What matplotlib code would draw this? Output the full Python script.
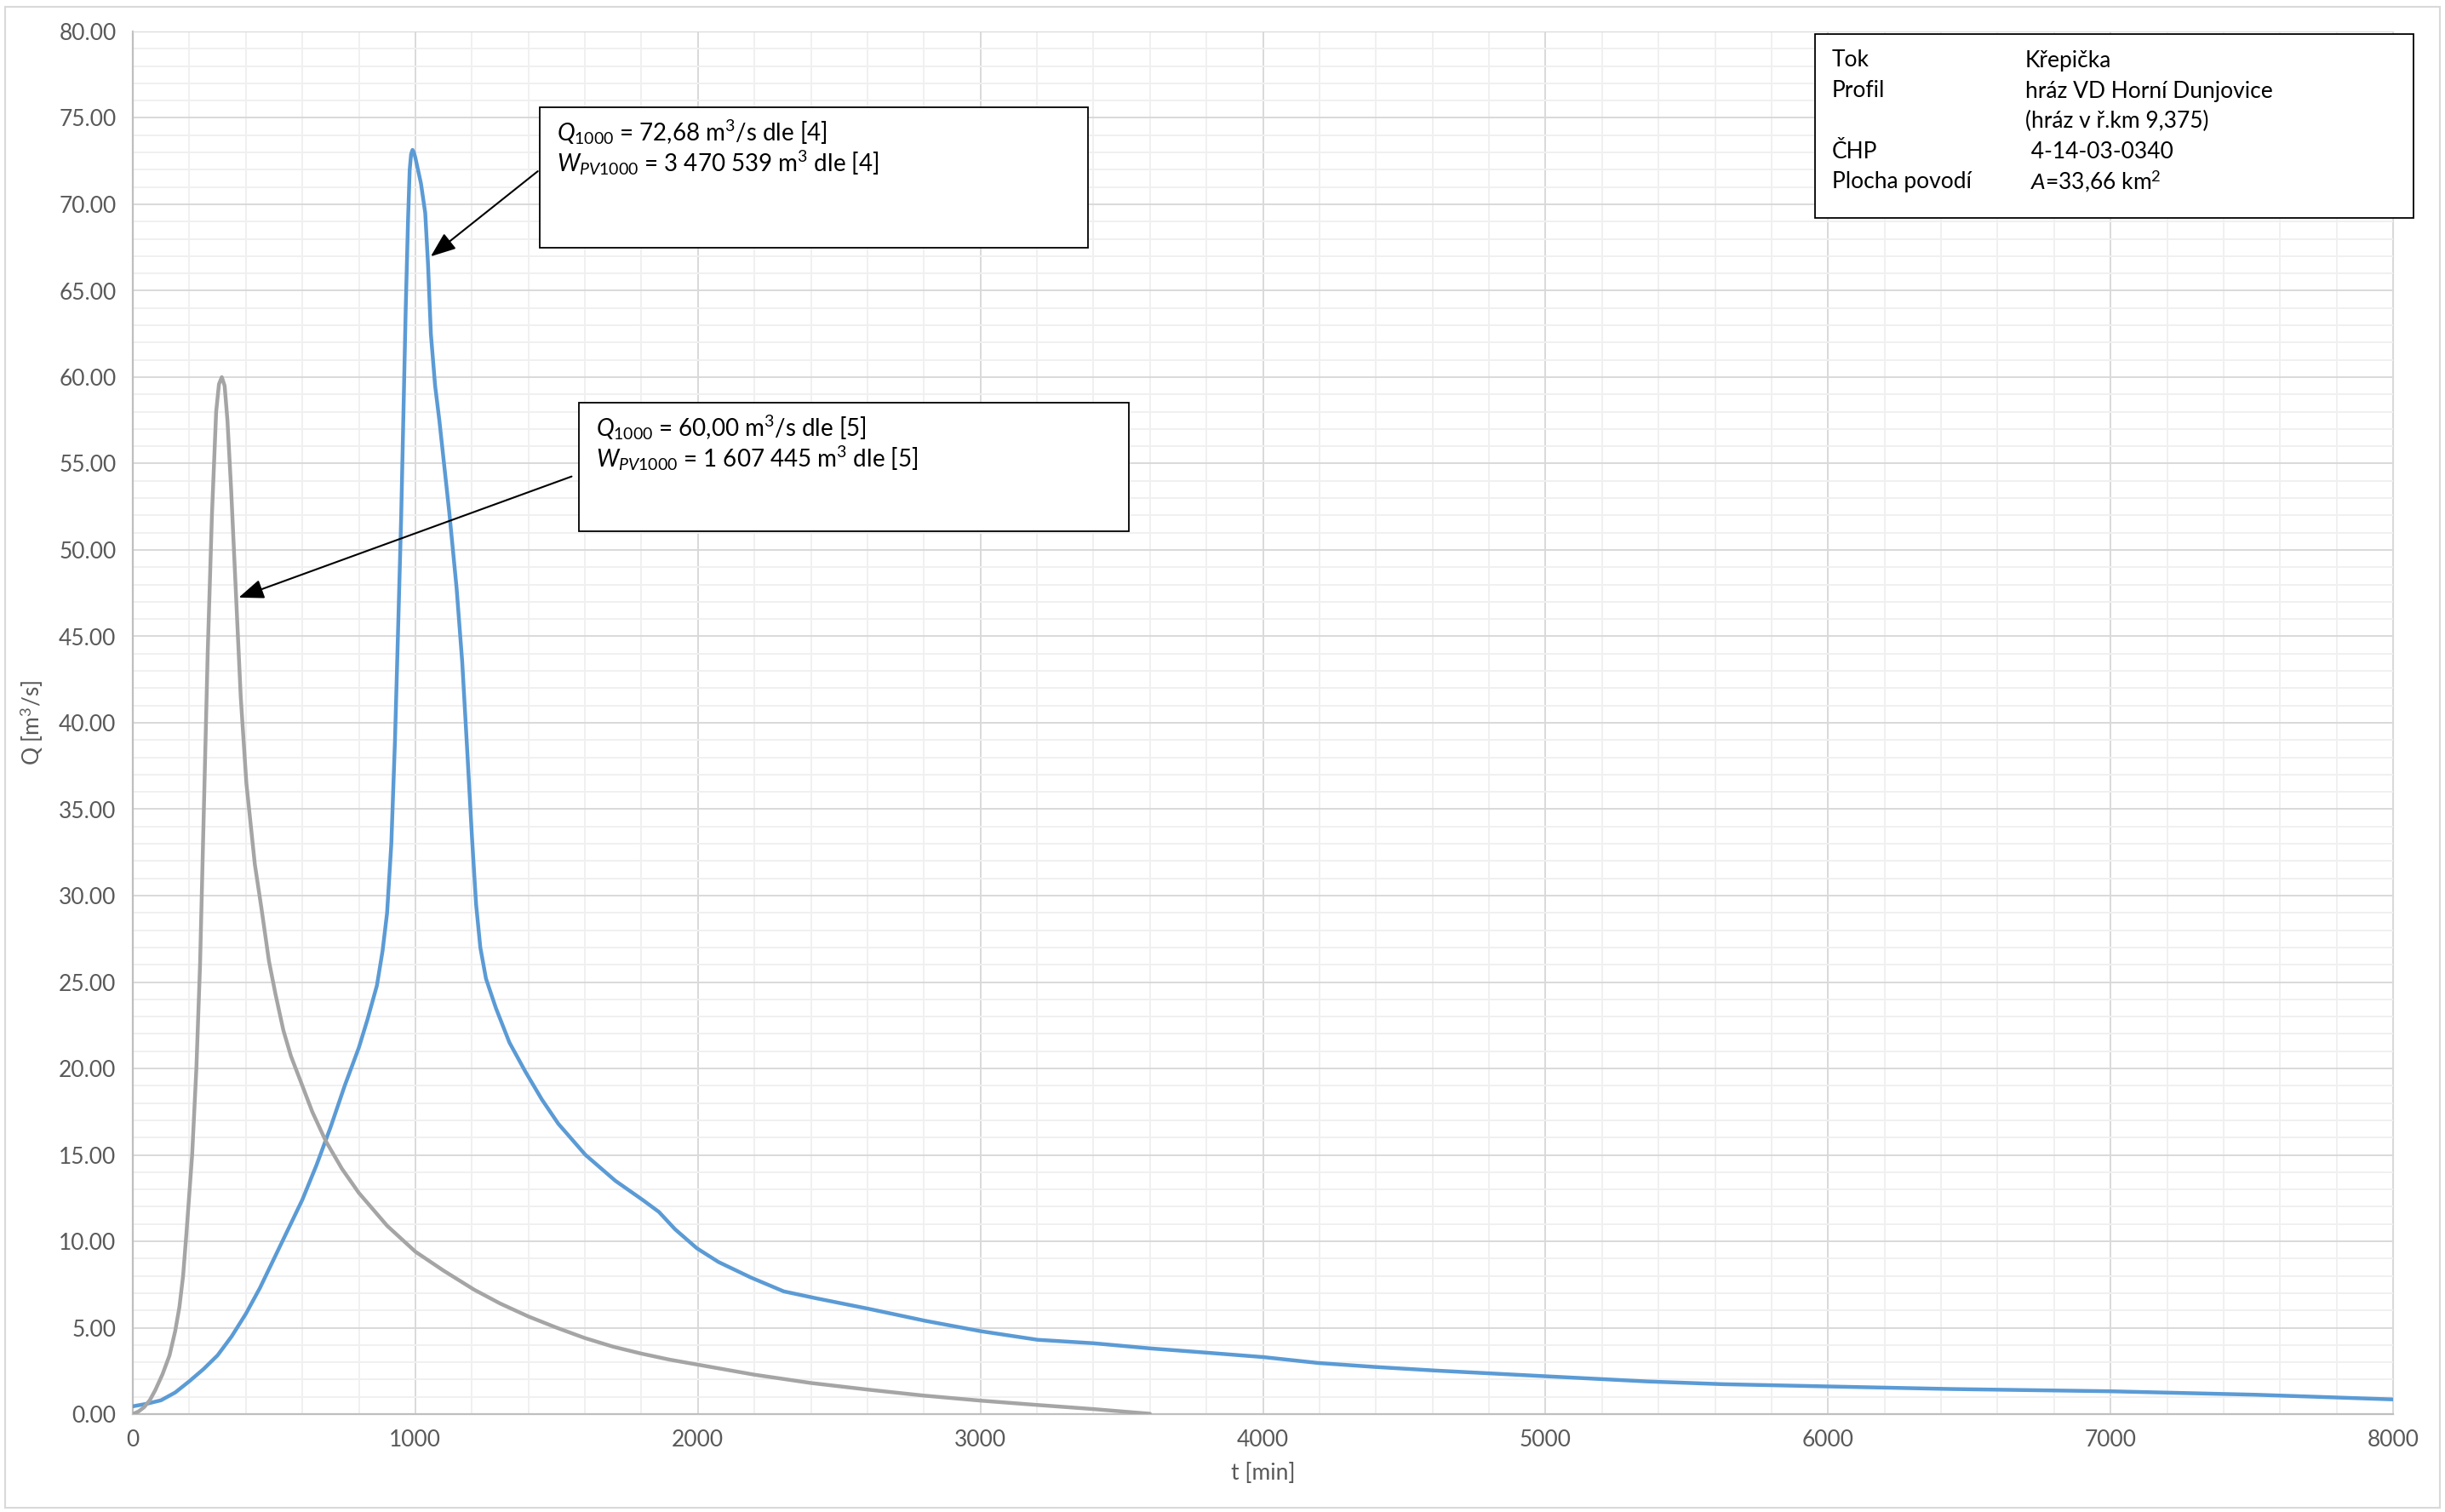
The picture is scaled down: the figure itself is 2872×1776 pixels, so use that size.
import matplotlib.pyplot as plt
from matplotlib.patches import Rectangle
from matplotlib.ticker import MultipleLocator, FormatStrFormatter

plt.rcParams['font.family'] = ['Lato', 'DejaVu Sans']
plt.rcParams['mathtext.fontset'] = 'custom'
plt.rcParams['mathtext.rm'] = 'Lato'
plt.rcParams['mathtext.it'] = 'Lato:italic'

# hydrograph [4] (blue)
t_blue = [0, 50, 100, 150, 200, 250, 300, 350, 400, 450, 500, 550, 600, 650, 700, 750,
          800, 830, 864, 884, 900, 915, 928, 940, 950, 958, 966, 974, 980, 985, 990, 995,
          1000, 1020, 1035, 1045, 1055, 1070, 1085, 1120, 1146, 1166, 1185, 1200, 1215,
          1230, 1250, 1285, 1333, 1390, 1448, 1506, 1602, 1708, 1804, 1862, 1919, 1996,
          2073, 2188, 2304, 2419, 2602, 2804, 3000, 3202, 3400, 3602, 3804, 4000, 4194,
          4395, 4610, 5000, 5360, 5629, 6000, 6438, 7000, 7513, 8000]
q_blue = [0.45, 0.6, 0.8, 1.25, 1.9, 2.6, 3.4, 4.5, 5.8, 7.3, 9.0, 10.7, 12.4, 14.4, 16.6, 19.0,
          21.2, 22.8, 24.8, 26.8, 29.0, 33.0, 39.0, 46.0, 52.0, 58.0, 64.0, 69.0, 72.0, 72.9, 73.15, 73.0,
          72.7, 71.2, 69.5, 66.5, 62.5, 59.5, 57.5, 52.2, 47.8, 43.5, 38.0, 33.5, 29.5,
          27.0, 25.2, 23.5, 21.5, 19.8, 18.2, 16.8, 15.0, 13.5, 12.4, 11.7, 10.7, 9.6,
          8.8, 7.9, 7.1, 6.7, 6.1, 5.4, 4.8, 4.3, 4.1, 3.8, 3.55, 3.3, 2.96,
          2.73, 2.52, 2.19, 1.89, 1.73, 1.6, 1.45, 1.32, 1.12, 0.85]

# hydrograph [5] (grey)
t_grey = [0, 20, 40, 60, 80, 105, 130, 150, 165, 178, 190, 210, 225, 238, 250, 265, 280,
          295, 305, 315, 325, 335, 348, 365, 382, 402, 432, 455, 482, 505, 533, 560, 593,
          635, 683, 740, 800, 900, 1000, 1100, 1208, 1300, 1400, 1500, 1600, 1700, 1800,
          1900, 2000, 2200, 2400, 2600, 2800, 3000, 3200, 3400, 3600]
q_grey = [0.0, 0.15, 0.4, 0.8, 1.4, 2.3, 3.4, 4.8, 6.2, 8.0, 10.5, 15.0, 20.0, 26.0, 34.0, 44.0, 52.0,
          58.0, 59.6, 60.0, 59.5, 57.5, 53.5, 47.5, 41.5, 36.5, 31.8, 29.3, 26.2, 24.3, 22.2, 20.7, 19.3,
          17.5, 15.8, 14.2, 12.8, 10.9, 9.4, 8.3, 7.2, 6.4, 5.65, 5.0, 4.4, 3.9, 3.5,
          3.15, 2.86, 2.28, 1.8, 1.42, 1.07, 0.78, 0.53, 0.29, 0.02]

info_keys = ['Tok', 'Profil', '', 'ČHP', 'Plocha povodí']
info_vals = ['Křepička', 'hráz VD Horní Dunjovice', '(hráz v ř.km 9,375)', ' 4-14-03-0340',
             r' $\mathit{A}$=33,66 km$^{2}$']

W, H = 2872, 1776
fig = plt.figure(figsize=(W / 100, H / 100), dpi=100)
ax = fig.add_axes([156 / W, 1 - 1661 / H, (2811 - 156) / W, (1661 - 37) / H])

ax.plot(t_blue, q_blue, color='#5b9bd5', lw=3.2, solid_joinstyle='round',
        solid_capstyle='round', zorder=3)
ax.plot(t_grey, q_grey, color='#a5a5a5', lw=3.2, solid_joinstyle='round',
        solid_capstyle='round', zorder=3)

ax.set_xlim(0, 8000)
ax.set_ylim(0, 80)
ax.xaxis.set_major_locator(MultipleLocator(1000))
ax.xaxis.set_minor_locator(MultipleLocator(200))
ax.yaxis.set_major_locator(MultipleLocator(5))
ax.yaxis.set_minor_locator(MultipleLocator(1))
ax.yaxis.set_major_formatter(FormatStrFormatter('%.2f'))
ax.grid(which='major', color='#d9d9d9', lw=1.4, zorder=0)
ax.grid(which='minor', color='#f0f0f0', lw=1.4, zorder=0)
ax.set_axisbelow(True)
ax.tick_params(which='both', length=0, labelsize=19, labelcolor='#595959')
ax.tick_params(axis='x', pad=13)
ax.tick_params(axis='y', pad=14)
for s in ['top', 'right']:
    ax.spines[s].set_color('#d9d9d9')
for s in ['left', 'bottom']:
    ax.spines[s].set_color('#bfbfbf')
    ax.spines[s].set_linewidth(1.6)

ax.set_xlabel('t [min]', fontsize=19, color='#595959', labelpad=10)
ax.set_ylabel('Q [m$^{3}$/s]', fontsize=19, color='#595959', labelpad=12)

# annotation boxes
ax.add_patch(Rectangle((1440, 67.5), 1940, 8.1, facecolor='white', edgecolor='black',
                       lw=1.3, zorder=5))
ax.text(1500, 74.2, r'$\mathit{Q}_{\mathit{1000}}$ = 72,68 m$^{3}$/s dle [4]', fontsize=20,
        va='center', zorder=6)
ax.text(1500, 72.4, r'$\mathit{W}_{\mathit{PV1000}}$ = 3 470 539 m$^{3}$ dle [4]', fontsize=20,
        va='center', zorder=6)
ax.annotate('', xy=(1048, 66.9), xytext=(1440, 72.0),
            arrowprops=dict(arrowstyle='-|>,head_length=0.9,head_width=0.35',
                            color='black', lw=1.5, mutation_scale=20), zorder=6)

ax.add_patch(Rectangle((1579, 51.1), 1946, 7.4, facecolor='white', edgecolor='black',
                       lw=1.3, zorder=5))
ax.text(1639, 57.1, r'$\mathit{Q}_{\mathit{1000}}$ = 60,00 m$^{3}$/s dle [5]', fontsize=20,
        va='center', zorder=6)
ax.text(1639, 55.3, r'$\mathit{W}_{\mathit{PV1000}}$ = 1 607 445 m$^{3}$ dle [5]', fontsize=20,
        va='center', zorder=6)
ax.annotate('', xy=(367, 47.2), xytext=(1561, 54.3),
            arrowprops=dict(arrowstyle='-|>,head_length=0.9,head_width=0.35',
                            color='black', lw=1.5, mutation_scale=20), zorder=6)

# info box (figure pixels)
fig.patches.append(Rectangle((2132 / W, 1 - 256 / H), (2835 - 2132) / W, 216 / H,
                             transform=fig.transFigure, facecolor='white',
                             edgecolor='black', lw=1.3, zorder=5))
row_y = [71, 107, 142, 179, 213]
for k, v, y in zip(info_keys, info_vals, row_y):
    fig.text(2152 / W, 1 - y / H, k, fontsize=19, va='center', zorder=6)
    fig.text(2379 / W, 1 - y / H, v, fontsize=19, va='center', zorder=6)

# outer chart border
fig.patches.append(Rectangle((6 / W, 5 / H), (2866 - 6) / W, (1768 - 5) / H,
                             transform=fig.transFigure, facecolor='none',
                             edgecolor='#d9d9d9', lw=1.5))

fig.savefig('out.png', dpi=100)
